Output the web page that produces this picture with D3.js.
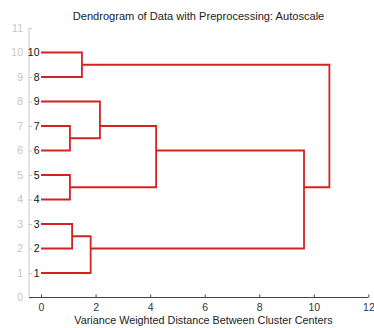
<!DOCTYPE html>
<html><head><meta charset="utf-8">
<script src="https://cdn.jsdelivr.net/npm/d3@7"></script>
<style>
html,body{margin:0;padding:0;background:#fff;}
text{font-family:"Liberation Sans",Arial,sans-serif;}
</style></head>
<body><svg id="c" width="374" height="328"></svg>
<script>
// Leaf labels in display order (position 1 at bottom .. 10 at top)
const leafLabels = ["1","2","3","4","5","6","7","9","8","10"];
// Linkage: node ids 0..9 are leaves (by position), 10+ are merges in order
const mergeA      = [5, 3, 1, 8, 0, 7, 15, 16, 17];
const mergeB      = [6, 4, 2, 9, 12, 10, 11, 14, 13];
const mergeHeight = [1.06, 1.06, 1.14, 1.50, 1.82, 2.16, 4.22, 9.64, 10.57];
const xTicks = [0, 2, 4, 6, 8, 10, 12];
const yTicks = [0,1,2,3,4,5,6,7,8,9,10,11];
const title = "Dendrogram of Data with Preprocessing: Autoscale";
const xLabel = "Variance Weighted Distance Between Cluster Centers";

const svg = d3.select("#c");
const x = d3.scaleLinear().domain([-0.44, 12]).range([29, 368.4]);
const y = d3.scaleLinear().domain([0, 11]).range([297.5, 28]);

// node positions: y = mean of leaf positions, h = merge height
const nodeY = [], nodeH = [], nodeLeaves = [];
leafLabels.forEach((l, i) => { nodeY.push(i + 1); nodeH.push(0); nodeLeaves.push([i + 1]); });
mergeA.forEach((a, k) => {
  const b = mergeB[k];
  const leaves = nodeLeaves[a].concat(nodeLeaves[b]);
  nodeLeaves.push(leaves);
  nodeY.push(d3.mean(leaves));
  nodeH.push(mergeHeight[k]);
});

// title
svg.append("text").attr("x", 198.5).attr("y", 19.5).attr("text-anchor", "middle")
  .attr("font-size", 11.1).attr("fill", "#222").text(title);

// y axis (gray)
const yAxis = svg.append("g").attr("transform", `translate(${x(-0.44)},0)`)
  .call(d3.axisLeft(y).tickValues(yTicks).tickSize(-3).tickPadding(6).tickFormat(d3.format("d")));
yAxis.select(".domain").attr("stroke", "#c8c8c8").attr("d", `M0,${y(11)}V${y(0)}`);
yAxis.selectAll(".tick line").attr("stroke", "#c8c8c8");
yAxis.selectAll(".tick text").attr("fill", "#c4c4c4").attr("font-size", 10.5)
  .attr("font-family", "Liberation Sans, Arial, sans-serif");

// x axis
const xAxis = svg.append("g").attr("transform", `translate(0,${y(0)})`)
  .call(d3.axisBottom(x).tickValues(xTicks).tickSize(-3).tickPadding(6).tickFormat(d3.format("d")));
xAxis.select(".domain").attr("stroke", "#444").attr("d", `M${x(-0.44)},0H${x(12)}`);
xAxis.selectAll(".tick line").attr("stroke", "#444");
xAxis.selectAll(".tick text").attr("fill", "#333").attr("font-size", 10.5)
  .attr("font-family", "Liberation Sans, Arial, sans-serif");

svg.append("text").attr("x", 203.5).attr("y", 324).attr("text-anchor", "middle")
  .attr("font-size", 10.8).attr("fill", "#222").text(xLabel);

// leaf labels
svg.append("g").selectAll("text").data(leafLabels).join("text")
  .attr("x", x(0) - 1.5).attr("y", (d, i) => y(i + 1)).attr("dy", "0.35em")
  .attr("text-anchor", "end").attr("font-size", 10.5).attr("fill", "#111").text(d => d);

// links
const links = mergeA.map((a, k) => {
  const b = mergeB[k], id = leafLabels.length + k;
  const p = d3.path();
  p.moveTo(x(nodeH[a]), y(nodeY[a]));
  p.lineTo(x(nodeH[id]), y(nodeY[a]));
  p.lineTo(x(nodeH[id]), y(nodeY[b]));
  p.lineTo(x(nodeH[b]), y(nodeY[b]));
  return p.toString();
});
svg.append("g").selectAll("path").data(links).join("path")
  .attr("d", d => d).attr("fill", "none").attr("stroke", "#d42222").attr("stroke-width", 1.8);
</script></body></html>
